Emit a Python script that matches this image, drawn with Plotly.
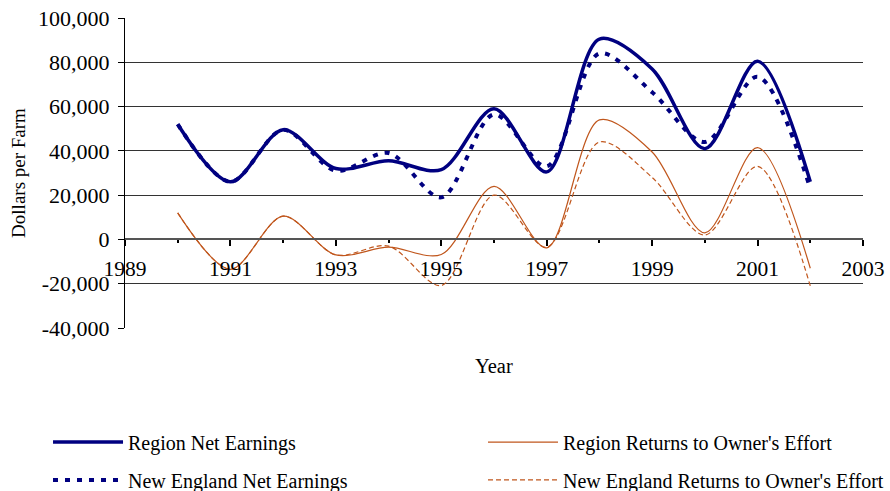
import plotly.graph_objects as go

years = [1990, 1991, 1992, 1993, 1994, 1995, 1996, 1997, 1998, 1999, 2000, 2001, 2002]
region_net = [52000, 26000, 49500, 32000, 35500, 31500, 59000, 30500, 90500, 77000, 41000, 80500, 26000]
ne_net = [52000, 26000, 49500, 31000, 39000, 19000, 56500, 33000, 84000, 66500, 44000, 73500, 23000]
region_ret = [12000, -13500, 10500, -7000, -3500, -6800, 24000, -3800, 54000, 39500, 3000, 41500, -13000]
ne_ret = [12000, -13500, 10500, -7000, -3000, -20800, 20000, -3500, 44000, 28000, 2000, 33000, -21000]

y_ticks = [-40000, -20000, 0, 20000, 40000, 60000, 80000, 100000]
y_labels = [f"{v:,}" for v in y_ticks]
x_ticks = [1989, 1991, 1993, 1995, 1997, 1999, 2001, 2003]

NAVY = "#000080"
ORANGE = "#C0561C"
FONT = "Liberation Serif"

fig = go.Figure()
fig.add_trace(go.Scatter(x=years, y=region_net, name="Region Net Earnings", mode="lines",
                         line=dict(color=NAVY, width=3.5, shape="spline", smoothing=0.9),
                         legend="legend"))
fig.add_trace(go.Scatter(x=years, y=region_ret, name="Region Returns to Owner's Effort", mode="lines",
                         line=dict(color=ORANGE, width=1.2, shape="spline", smoothing=0.9),
                         legend="legend2"))
fig.add_trace(go.Scatter(x=years, y=ne_net, name="New England Net Earnings", mode="lines",
                         line=dict(color=NAVY, width=4, dash="5px,7px", shape="spline", smoothing=0.9),
                         legend="legend3"))
fig.add_trace(go.Scatter(x=years, y=ne_ret, name="New England Returns to Owner's Effort", mode="lines",
                         line=dict(color=ORANGE, width=1.2, dash="5px,3px", shape="spline", smoothing=0.9),
                         legend="legend4"))

legend_common = dict(orientation="h", xanchor="left", yanchor="middle",
                     font=dict(family=FONT, size=20, color="black"),
                     bgcolor="rgba(0,0,0,0)", itemwidth=70)

col1_x = -0.1043
col2_x = 0.4851
row1_y = -0.368
row2_y = -0.490

fig.update_layout(
    width=890, height=491,
    margin=dict(l=125, r=27, t=18, b=163, autoexpand=False),
    paper_bgcolor="white", plot_bgcolor="white",
    font=dict(family=FONT, color="black"),
    showlegend=True,
    legend=dict(x=col1_x, y=row1_y, **legend_common),
    legend2=dict(x=col2_x, y=row1_y, **legend_common),
    legend3=dict(x=col1_x, y=row2_y, **legend_common),
    legend4=dict(x=col2_x, y=row2_y, **legend_common),
    xaxis=dict(
        range=[1989, 2003], tickvals=x_ticks, ticktext=[str(v) for v in x_ticks],
        anchor="free", position=40000 / 140000,
        showline=True, linecolor="#555555", linewidth=1.5,
        ticks="outside", ticklen=6, tickcolor="black", tickwidth=1.5,
        minor=dict(dtick=1, tick0=1989, ticks="outside", ticklen=3, tickcolor="black", tickwidth=1.5, showgrid=False),
        showgrid=False, zeroline=False,
        tickfont=dict(family=FONT, size=21.5, color="black"),
        ticklabelstandoff=4,
    ),
    yaxis=dict(
        range=[-40000, 100000], tickvals=y_ticks, ticktext=y_labels,
        showline=True, linecolor="black", linewidth=1,
        ticks="outside", ticklen=6, tickcolor="black",
        showgrid=True, gridcolor="#333333", gridwidth=1,
        zeroline=False,
        tickfont=dict(family=FONT, size=22, color="black"),
        ticklabelstandoff=4,
        title=dict(text="Dollars per Farm", font=dict(family=FONT, size=19, color="black"), standoff=7),
    ),
)

fig.add_annotation(text="Year", xref="paper", yref="paper", x=0.5, y=(328 - 366) / 310,
                   showarrow=False, font=dict(family=FONT, size=20.5, color="black"),
                   xanchor="center", yanchor="middle")

fig.write_html("out.html", config={"displayModeBar": False},
               post_script="document.body.style.margin='0';document.body.style.overflow='hidden';")
